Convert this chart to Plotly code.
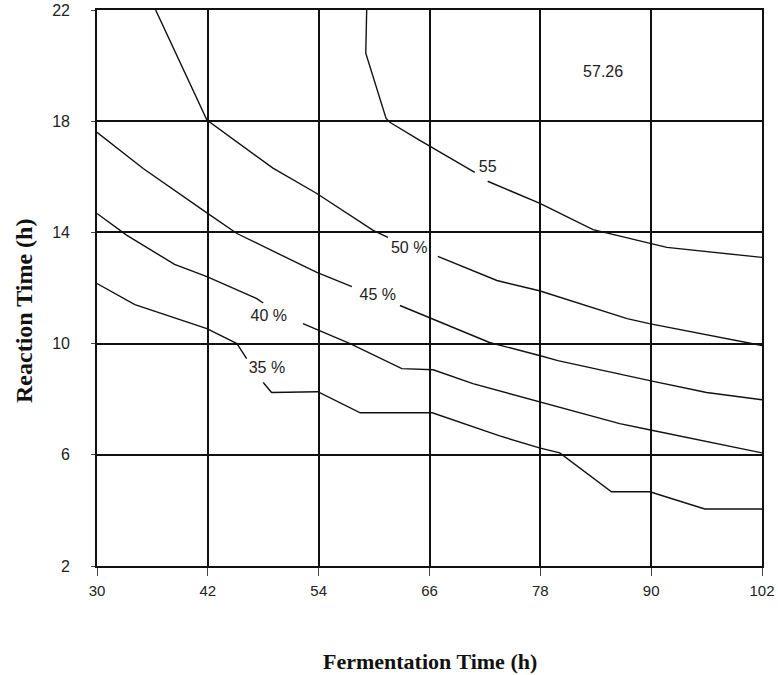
import plotly.graph_objects as go

# Contour lines (Fermentation time x, Reaction time y); None marks the gap where the label sits
x55 = [59.2, 59.1, 61.3, 61.7, 65.0, 70.9, None, 72.3, 77.9, 83.7, 89.8, 91.7, 102]
y55 = [22.0, 20.45, 18.1, 17.96, 17.3, 16.16, None, 15.84, 15.05, 14.1, 13.6, 13.46, 13.1]

x50 = [36.35, 41.9, 49.05, 53.8, 59.9, 61.5, None, 66.9, 73.3, 77.9, 87.4, 89.8, 102]
y50 = [22.0, 18.04, 16.31, 15.4, 14.07, 13.82, None, 13.14, 12.27, 11.9, 10.9, 10.72, 9.93]

x45 = [30, 35.0, 41.9, 45.15, 53.8, 57.6, None, 62.8, 72.5, 77.9, 79.9, 89.85, 96.0, 102]
y45 = [17.6, 16.3, 14.7, 13.96, 12.56, 12.05, None, 11.37, 10.04, 9.57, 9.39, 8.67, 8.24, 7.98]

x40 = [30, 33.2, 38.4, 41.9, 47.3, 48.0, None, 52.3, 57.4, 63.0, 66.4, 70.7, 77.9, 86.6, 89.8, 102]
y40 = [14.68, 13.9, 12.85, 12.41, 11.62, 11.46, None, 10.72, 10.0, 9.1, 9.06, 8.56, 7.91, 7.12, 6.9, 6.07]

x35 = [30, 34.1, 41.9, 45.15, 46.2, None, 48.0, 48.9, 53.9, 58.5, 66.3, 73.6, 77.9, 80.1, 85.7, 89.85, 95.8, 102]
y35 = [12.16, 11.4, 10.54, 10.0, 9.46, None, 8.6, 8.24, 8.27, 7.51, 7.51, 6.68, 6.25, 6.07, 4.67, 4.67, 4.05, 4.05]

label_text = ["57.26", "55", "50 %", "45 %", "40 %", "35 %"]
label_x = [84.8, 72.3, 63.8, 60.4, 48.6, 48.4]
label_y = [19.73, 16.3, 13.4, 11.7, 10.97, 9.1]

x_ticks = [30, 42, 54, 66, 78, 90, 102]
y_ticks = [2, 6, 10, 14, 18, 22]

fig = go.Figure()
for xs, ys in [(x55, y55), (x50, y50), (x45, y45), (x40, y40), (x35, y35)]:
    fig.add_trace(go.Scatter(x=xs, y=ys, mode="lines", connectgaps=False,
                             line=dict(color="#111", width=1.4), showlegend=False,
                             hoverinfo="skip"))

fig.add_trace(go.Scatter(x=label_x, y=label_y, mode="text", text=label_text,
                         textfont=dict(family="Liberation Sans, Arial", size=16, color="#222"),
                         showlegend=False, hoverinfo="skip"))

axis_common = dict(showgrid=True, gridcolor="#111", gridwidth=1.6, zeroline=False,
                   showline=True, linecolor="#111", linewidth=1.6, mirror=True,
                   ticks="outside", tickcolor="#444", ticklabeloverflow="allow",
                   automargin=False)

fig.update_xaxes(range=[30, 102], tickvals=x_ticks, ticklen=8, ticklabelstandoff=2,
                 tickfont=dict(family="Liberation Sans, Arial", size=15, color="#222"), **axis_common)
fig.update_yaxes(range=[2, 22], tickvals=y_ticks, ticklen=4, ticklabelstandoff=18,
                 tickfont=dict(family="Liberation Sans, Arial", size=16, color="#222"), **axis_common)

fig.add_annotation(text="<b>Fermentation Time (h)</b>", xref="paper", yref="paper",
                   x=0.5, y=0, yshift=-95, showarrow=False, yanchor="middle",
                   font=dict(family="Liberation Serif, Times New Roman", size=22, color="#111"))
fig.add_annotation(text="<b>Reaction Time (h)</b>", xref="paper", yref="paper",
                   x=0, y=0.5, xshift=-73, yshift=-23, showarrow=False, textangle=-90,
                   xanchor="center", yanchor="middle",
                   font=dict(family="Liberation Serif, Times New Roman", size=24, color="#111"))

fig.update_layout(width=778, height=675, margin=dict(l=97, r=16, t=10, b=109, autoexpand=False),
                  plot_bgcolor="white", paper_bgcolor="white")

# remove the default page margin so the figure fills the 778x675 window exactly
fig.write_html("out.html", config={"displayModeBar": False},
               post_script="document.body.style.margin='0';")
